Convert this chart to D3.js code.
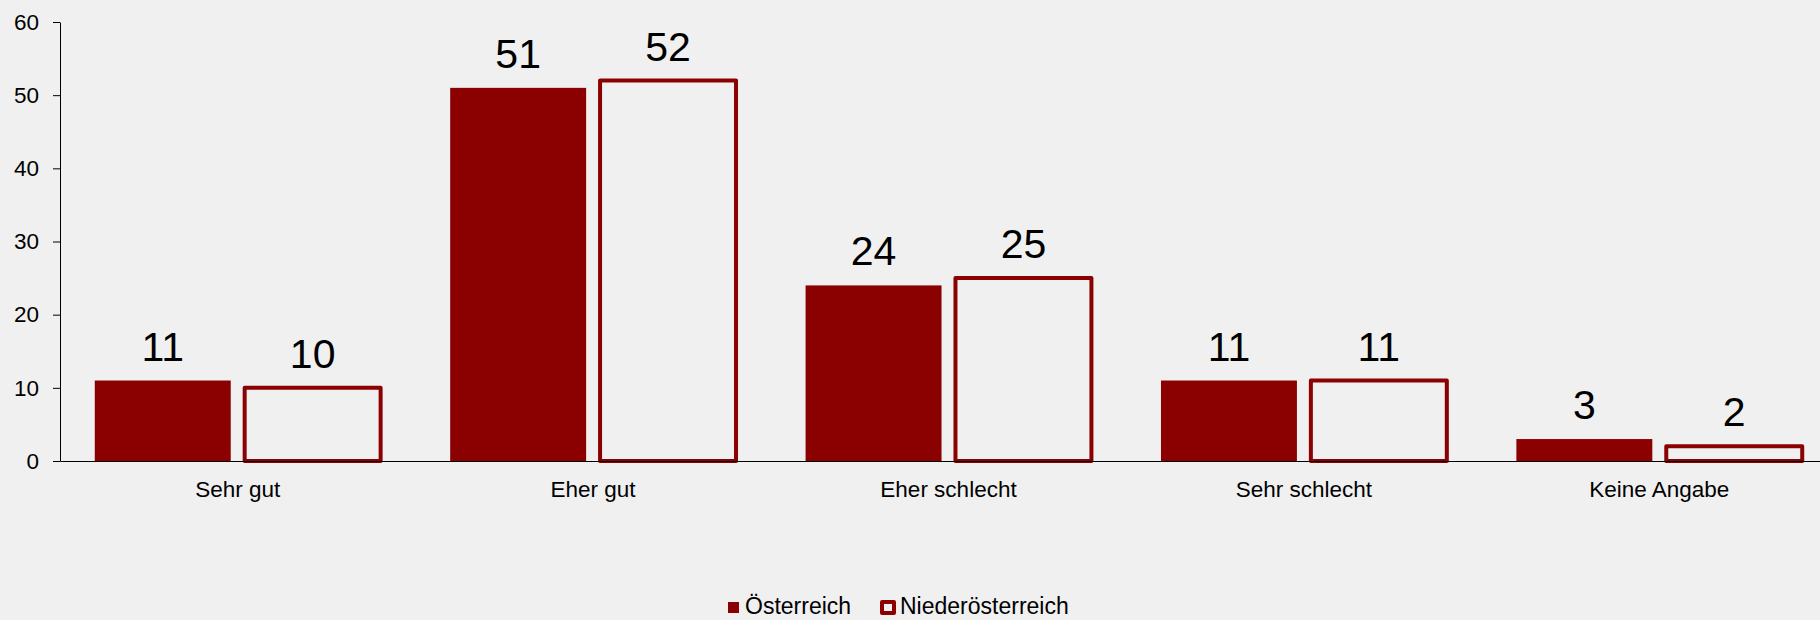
<!DOCTYPE html>
<html>
<head>
<meta charset="utf-8">
<script src="https://cdn.jsdelivr.net/npm/d3@7"></script>
<style>
  html, body { margin: 0; padding: 0; background: #f0f0f0; }
  svg { display: block; font-family: "Liberation Sans", Arial, sans-serif; }
</style>
</head>
<body>
<svg id="chart" width="1820" height="620"></svg>
<script>
// Daten
var categories = ["Sehr gut", "Eher gut", "Eher schlecht", "Sehr schlecht", "Keine Angabe"];
var series = ["Österreich", "Niederösterreich"];
var oesterreich = [11, 51, 24, 11, 3];
var niederoesterreich = [10, 52, 25, 11, 2];
var yTicks = [0, 10, 20, 30, 40, 50, 60];

var red = "#8b0000";
var bg = "#f0f0f0";

var svg = d3.select("#chart");
svg.append("rect").attr("width", 1820).attr("height", 620).attr("fill", bg);

// Skalen
var x0 = d3.scaleBand()
    .domain(categories)
    .range([60, 1837])
    .padding(0);
var x1 = d3.scaleBand()
    .domain(series)
    .range([0, x0.bandwidth()])
    .paddingInner(0.093)
    .paddingOuter(0.232);
var y = d3.scaleLinear()
    .domain([0, 60])
    .range([461, 22]);

var rows = categories.map(function(c, i) {
  return { cat: c, values: [
    { key: series[0], value: oesterreich[i] },
    { key: series[1], value: niederoesterreich[i] }
  ]};
});

// Balken
var groups = svg.append("g").selectAll("g")
  .data(rows)
  .enter().append("g")
    .attr("transform", function(d) { return "translate(" + x0(d.cat) + ",0)"; });

groups.selectAll("rect")
  .data(function(d) { return d.values; })
  .enter().append("rect")
    .attr("x", function(d) { return x1(d.key); })
    .attr("y", function(d) { return y(d.value); })
    .attr("width", x1.bandwidth())
    .attr("height", function(d) { return y(0) - y(d.value); })
    .attr("fill", function(d) { return d.key === series[0] ? red : bg; })
    .attr("stroke", function(d) { return d.key === series[0] ? "none" : red; })
    .attr("stroke-width", 4)
    .attr("stroke-linejoin", "round");

// Wertbeschriftungen
groups.selectAll("text")
  .data(function(d) { return d.values; })
  .enter().append("text")
    .attr("x", function(d) { return x1(d.key) + x1.bandwidth() / 2; })
    .attr("y", function(d) { return y(d.value) - 20; })
    .attr("text-anchor", "middle")
    .attr("font-size", "41px")
    .attr("fill", "#000")
    .text(function(d) { return d.value; });

// y-Achse
var yAxis = svg.append("g")
    .attr("transform", "translate(60,0)")
    .call(d3.axisLeft(y).tickValues(yTicks).tickSize(7).tickSizeOuter(0).tickPadding(14));
yAxis.selectAll("text").attr("font-size", "22.5px").attr("fill", "#000").attr("font-family", null);
yAxis.selectAll("line, path").attr("stroke", "#000");

// x-Achse
var xAxis = svg.append("g")
    .attr("transform", "translate(0," + y(0) + ")")
    .call(d3.axisBottom(x0).tickSize(0).tickSizeOuter(0));
xAxis.selectAll("text")
    .attr("y", 36)
    .attr("dy", null)
    .attr("font-size", "22.5px")
    .attr("fill", "#000")
    .attr("font-family", null);
xAxis.select("path").attr("stroke", "#000");

// Legende
var legend = svg.append("g").attr("font-size", "23px");
legend.append("rect")
    .attr("x", 728).attr("y", 602).attr("width", 11).attr("height", 11)
    .attr("fill", red);
legend.append("text").attr("x", 745).attr("y", 614).text(series[0]);
legend.append("rect")
    .attr("x", 882).attr("y", 602).attr("width", 12).attr("height", 11)
    .attr("fill", bg).attr("stroke", red).attr("stroke-width", 4)
    .attr("stroke-linejoin", "round");
legend.append("text").attr("x", 900).attr("y", 614).text(series[1]);
</script>
</body>
</html>
